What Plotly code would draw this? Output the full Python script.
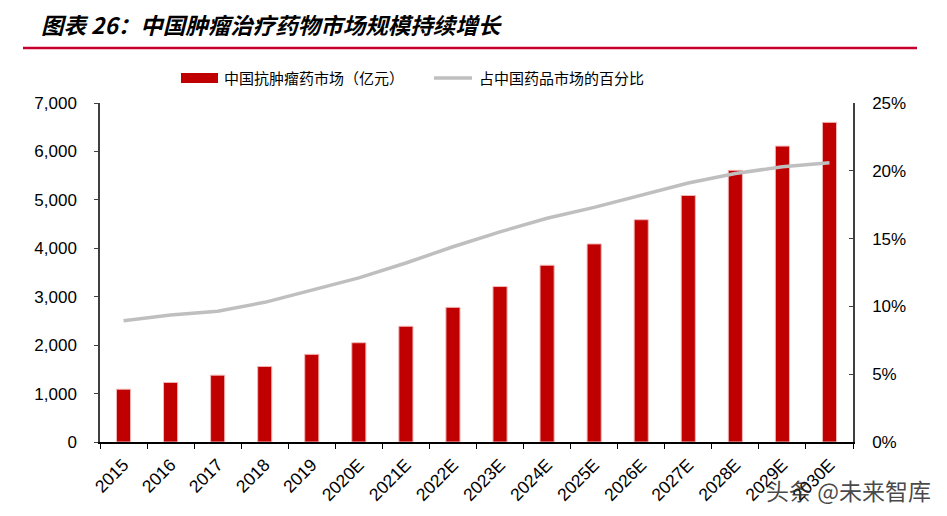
import plotly.graph_objects as go

years = ["2015", "2016", "2017", "2018", "2019", "2020E", "2021E", "2022E", "2023E",
         "2024E", "2025E", "2026E", "2027E", "2028E", "2029E", "2030E"]
market = [1090, 1230, 1380, 1560, 1810, 2050, 2390, 2780, 3210,
          3650, 4090, 4590, 5090, 5610, 6110, 6600]
share = [0.0895, 0.0936, 0.0965, 0.103, 0.112, 0.121, 0.132, 0.144, 0.155,
         0.165, 0.173, 0.182, 0.191, 0.198, 0.203, 0.206]

bar_name = "中国抗肿瘤药市场（亿元）"
line_name = "占中国药品市场的百分比"
title_text = "图表 26：中国肿瘤治疗药物市场规模持续增长"
watermark = "头条 @未来智库"

RED = "#C00000"
GRAY = "#BFBFBF"
TITLE_RED = "#C8002D"
FONT = "Liberation Sans, Arial, sans-serif"
CJK = "Noto Sans CJK SC, sans-serif"

fig = go.Figure()
fig.add_trace(go.Bar(x=years, y=market, name=bar_name, width=0.3,
                     marker=dict(color=RED, line=dict(color="#F2B8B8", width=1)),
                     showlegend=False))
fig.add_trace(go.Scatter(x=years, y=share, name=line_name, yaxis="y2", mode="lines",
                         line=dict(color=GRAY, width=3.5), showlegend=False))

# page body has an 8px margin, so the figure is sized/offset to compensate
fig.update_layout(
    width=939, height=508,
    margin=dict(l=92, r=94, t=95, b=74),
    paper_bgcolor="white", plot_bgcolor="white",
    font=dict(family=FONT, size=17, color="#000"),
    xaxis=dict(type="category", tickson="boundaries", ticks="outside", ticklen=5,
               tickcolor="#000", showline=True, linecolor="#000", linewidth=1.5,
               tickangle=-45, tickfont=dict(size=17.5), showgrid=False,
               ticklabelstandoff=4),
    yaxis=dict(range=[0, 7000], dtick=1000, tickformat=",", ticks="outside", ticklen=4,
               tickcolor="#404040", showline=True, linecolor="#404040", linewidth=1.5,
               showgrid=False, zeroline=False, ticklabelstandoff=14),
    yaxis2=dict(range=[0, 0.25], dtick=0.05, tickformat=".0%", overlaying="y", side="right",
                ticks="inside", ticklen=4, tickcolor="#404040", showline=True,
                linecolor="#404040", linewidth=1.5, showgrid=False, zeroline=False,
                ticklabelstandoff=14),
    bargap=0.7,
)

# title rules and text
fig.add_shape(type="line", xref="paper", yref="paper", x0=-77/753, x1=817/753,
              y0=1 + 101/339, y1=1 + 101/339, line=dict(color=TITLE_RED, width=2.5))
fig.add_shape(type="line", xref="paper", yref="paper", x0=-77/753, x1=817/753,
              y0=1 + 55/339, y1=1 + 55/339, line=dict(color=TITLE_RED, width=2.5))
fig.add_annotation(text="<b><i>" + title_text + "</i></b>", xref="paper", yref="paper",
                   x=-61/753, y=1 + 79/339, xanchor="left", yanchor="middle",
                   showarrow=False, font=dict(family=CJK, size=22.5, color="#000"))

# legend (drawn manually)
ly = 1 + 25/339
fig.add_shape(type="rect", xref="paper", yref="paper", x0=81/753, x1=118/753,
              y0=ly - 5/339, y1=ly + 5/339, fillcolor=RED, line=dict(width=0))
fig.add_annotation(text=bar_name, xref="paper", yref="paper", x=122/753, y=ly,
                   xanchor="left", yanchor="middle", showarrow=False,
                   font=dict(family=CJK, size=15, color="#000"))
fig.add_shape(type="line", xref="paper", yref="paper", x0=334/753, x1=372/753,
              y0=ly, y1=ly, line=dict(color=GRAY, width=3.5))
fig.add_annotation(text=line_name, xref="paper", yref="paper", x=377/753, y=ly,
                   xanchor="left", yanchor="middle", showarrow=False,
                   font=dict(family=CJK, size=15, color="#000"))

# watermark
fig.add_annotation(text=watermark, xref="paper", yref="paper", x=1 + 80/753, y=-48/339,
                   xanchor="right", yanchor="middle", showarrow=False,
                   font=dict(family=CJK, size=23, color="rgba(40,40,40,0.85)"))

fig.write_html("out.html")
